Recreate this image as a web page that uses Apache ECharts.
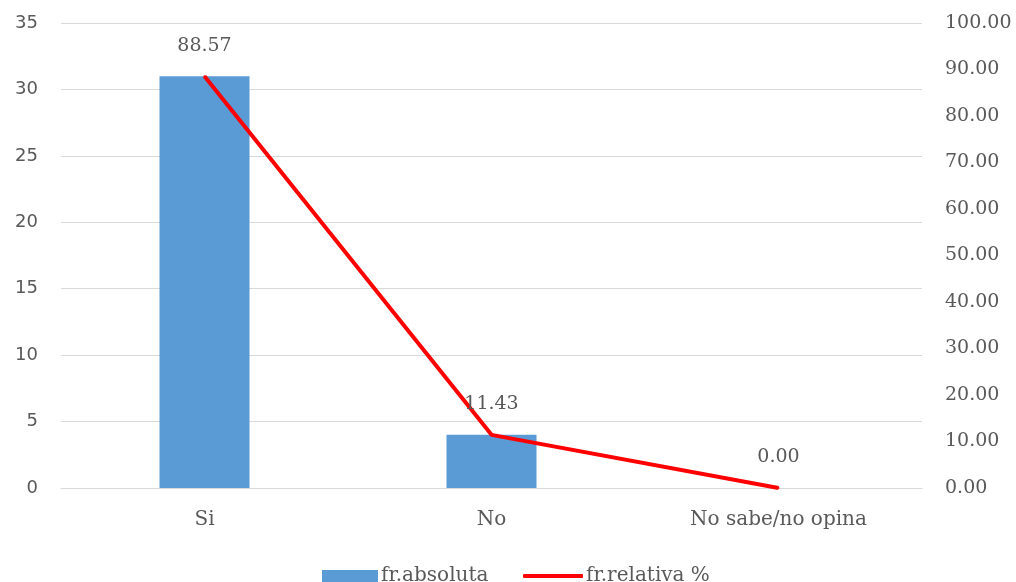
<!DOCTYPE html>
<html>
<head>
<meta charset="utf-8">
<script src="https://cdn.jsdelivr.net/npm/echarts@6/dist/echarts.min.js"></script>
<style>
  html, body { margin: 0; padding: 0; background: #ffffff; }
  #chart { width: 1016px; height: 582px; }
</style>
</head>
<body>
<div id="chart"></div>
<script>
// Survey answers: absolute counts and relative percentages
const categories = ['Si', 'No', 'No sabe/no opina'];
const absoluteCounts = [31, 4, 0];
const relativePercent = [88.57, 11.43, 0.00];
const leftTicks = { min: 0, max: 35, interval: 5 };
const rightTicks = { min: 0, max: 100, interval: 10 };

const textColor = '#595959';
const gridColor = '#D9D9D9';
const barColor = '#5B9BD5';
const lineColor = '#FF0000';
const serif = 'DejaVu Serif';
const sans = 'DejaVu Sans';

const chart = echarts.init(document.getElementById('chart'), null, { renderer: 'canvas' });

const legendText = { fontFamily: serif, fontSize: 20, color: textColor, padding: [0, 0, 0, -2] };

chart.setOption({
  animation: false,
  backgroundColor: '#ffffff',
  grid: { left: 61, right: 94, top: 23, bottom: 94, containLabel: false },
  legend: [
    {
      left: 322, top: 566, padding: 0,
      itemWidth: 56, itemHeight: 12,
      textStyle: legendText,
      data: [{ name: 'fr.absoluta', icon: 'rect' }]
    },
    {
      left: 523, top: 566, padding: 0,
      itemWidth: 60, itemHeight: 4,
      textStyle: legendText,
      data: [{ name: 'fr.relativa %', icon: 'roundRect' }]
    }
  ],
  xAxis: {
    type: 'category',
    data: categories,
    axisLine: { show: true, lineStyle: { color: gridColor, width: 1 } },
    axisTick: { show: false },
    axisLabel: { margin: 22, fontFamily: serif, fontSize: 20, color: textColor }
  },
  yAxis: [
    {
      type: 'value',
      min: leftTicks.min, max: leftTicks.max, interval: leftTicks.interval,
      axisLine: { show: false },
      axisTick: { show: false },
      splitLine: { lineStyle: { color: gridColor, width: 1 } },
      axisLabel: { margin: 23, fontFamily: sans, fontSize: 18, color: textColor }
    },
    {
      type: 'value',
      min: rightTicks.min, max: rightTicks.max, interval: rightTicks.interval,
      axisLine: { show: false },
      axisTick: { show: false },
      splitLine: { show: false },
      axisLabel: {
        margin: 23, fontFamily: serif, fontSize: 19, color: textColor,
        formatter: v => v.toFixed(2)
      }
    }
  ],
  series: [
    {
      name: 'fr.absoluta',
      type: 'bar',
      yAxisIndex: 0,
      data: absoluteCounts,
      barWidth: 90,
      itemStyle: { color: barColor }
    },
    {
      name: 'fr.relativa %',
      type: 'line',
      yAxisIndex: 1,
      data: relativePercent,
      symbol: 'circle',
      symbolSize: 2,
      lineStyle: { color: lineColor, width: 4 },
      itemStyle: { color: lineColor },
      label: {
        show: true,
        position: 'top',
        distance: 20,
        fontFamily: serif,
        fontSize: 19,
        color: textColor,
        formatter: p => p.value.toFixed(2)
      }
    }
  ]
});
</script>
</body>
</html>
